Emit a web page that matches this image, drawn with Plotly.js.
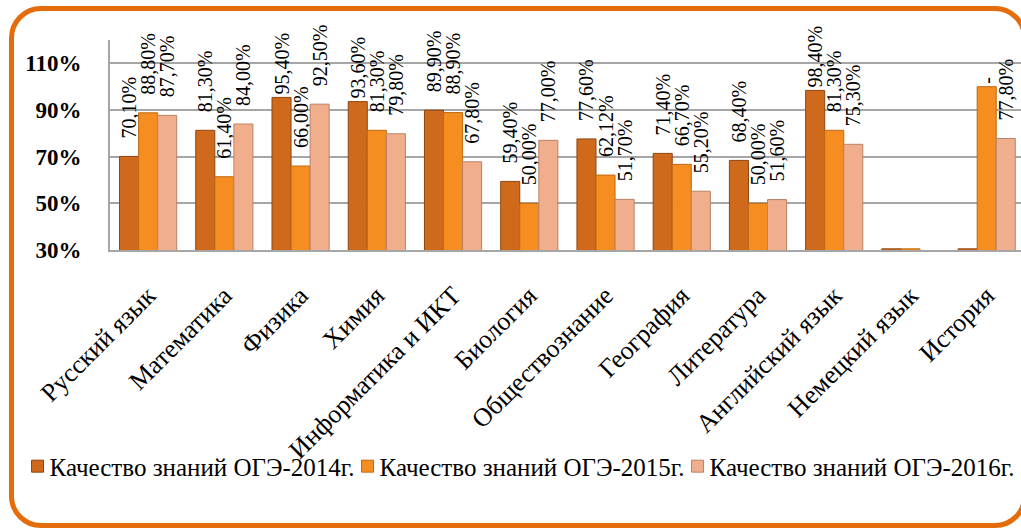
<!DOCTYPE html>
<html>
<head>
<meta charset="utf-8">
<script src="https://cdn.plot.ly/plotly-3.0.1.min.js"></script>
<style>
  html, body { margin: 0; padding: 0; background: #ffffff; overflow: hidden; }
  #wrap { position: relative; width: 1021px; height: 528px; overflow: hidden; }
  #frame { position: absolute; left: 9px; top: 6px; width: 1018px; height: 522px;
           box-sizing: border-box; border: 5px solid #E46C0A; border-radius: 32px; z-index: 0; }
  #chart { position: absolute; left: 0; top: 0; width: 1021px; height: 528px; z-index: 1; }
</style>
</head>
<body>
<div id="wrap">
  <div id="frame"></div>
  <div id="chart"></div>
</div>
<script>
// ---- data ----
const subjects = ['Русский язык', 'Математика', 'Физика', 'Химия', 'Информатика и ИКТ',
  'Биология', 'Обществознание', 'География', 'Литература', 'Английский язык',
  'Немецкий язык', 'История'];
const seriesNames = ['Качество знаний ОГЭ-2014г.', 'Качество знаний ОГЭ-2015г.', 'Качество знаний ОГЭ-2016г.'];
// values in %, slivers at the axis minimum are read as ~30.5
const q2014 = [70.1, 81.3, 95.4, 93.6, 89.9, 59.4, 77.6, 71.4, 68.4, 98.4, 30.5, 30.5];
const q2015 = [88.8, 61.4, 66.0, 81.3, 88.9, 50.0, 62.12, 66.7, 50.0, 81.3, 30.5, 100.0];
const q2016 = [87.7, 84.0, 92.5, 79.8, 67.8, 77.0, 51.7, 55.2, 51.6, 75.3, null, 77.8];
// labels shown in the picture (blank = no label, '-' = dash label)
const lab2014 = ['70,10%', '81,30%', '95,40%', '93,60%', '89,90%', '59,40%', '77,60%', '71,40%', '68,40%', '98,40%', '', ''];
const lab2015 = ['88,80%', '61,40%', '66,00%', '81,30%', '88,90%', '50,00%', '62,12%', '66,70%', '50,00%', '81,30%', '', '-'];
const lab2016 = ['87,70%', '84,00%', '92,50%', '79,80%', '67,80%', '77,00%', '51,70%', '55,20%', '51,60%', '75,30%', '', '77,80%'];
const yTickVals = [30, 50, 70, 90, 110];
const yTickText = ['30%', '50%', '70%', '90%', '110%'];

const colors = ['#CF6A1D', '#F68D20', '#F0AE8C'];
const edges = ['#8E4510', '#BF6A14', '#B98266'];
const SERIF = 'Liberation Serif';

function pad(labels, vals) {
  // small visual gap between bar top and label (labels near the chart top are not padded)
  return labels.map((t, i) => t === '' ? '' : ((vals[i] !== null && vals[i] > 92.6) ? t : '\u00a0\u00a0\u00a0' + t));
}

const allVals = [q2014, q2015, q2016];
const allLabs = [lab2014, lab2015, lab2016];
const traces = allVals.map((v, k) => ({
  type: 'bar',
  name: seriesNames[k],
  x: subjects,
  y: v,
  text: pad(allLabs[k], v),
  textposition: 'outside',
  textangle: -90,
  constraintext: 'none',
  cliponaxis: false,
  textfont: { family: SERIF, size: 20, color: '#000000' },
  marker: { color: colors[k], line: { color: edges[k], width: 1 } },
  hoverinfo: 'x+y+name'
}));

const layout = {
  width: 1021,
  height: 528,
  margin: { l: 110, r: 0, t: 40, b: 278 },
  paper_bgcolor: 'rgba(0,0,0,0)',
  plot_bgcolor: 'rgba(0,0,0,0)',
  font: { family: SERIF, color: '#000000' },
  barmode: 'group',
  bargap: 0.25,
  bargroupgap: 0,
  showlegend: true,
  legend: {
    orientation: 'h',
    x: -0.1015, xanchor: 'left',
    y: -0.921, yanchor: 'top',
    font: { family: SERIF, size: 25, color: '#000000' },
    entrywidth: 285,
    entrywidthmode: 'pixels',
    bgcolor: 'rgba(0,0,0,0)',
    traceorder: 'normal'
  },
  xaxis: {
    type: 'category',
    range: [-0.5, 11.45],
    showline: true, linecolor: '#A6A6A6', linewidth: 2,
    showgrid: false, zeroline: false,
    ticks: '',
    tickangle: -45,
    ticklabelstandoff: 18,
    tickfont: { family: SERIF, size: 26, color: '#000000' }
  },
  yaxis: {
    range: [30, 120],
    tickvals: yTickVals,
    ticktext: yTickText,
    showline: true, linecolor: '#A6A6A6', linewidth: 2,
    showgrid: true, gridcolor: '#A6A6A6', gridwidth: 2,
    zeroline: false,
    ticks: '',
    ticklabelstandoff: 22,
    tickfont: { family: SERIF, size: 23, color: '#000000', weight: 'bold' }
  }
};

Plotly.newPlot('chart', traces, layout, { displayModeBar: false, staticPlot: true }).then(gd => {
  // legend text sits close to its swatch in the reference
  gd.querySelectorAll('.legendtext').forEach(t => t.setAttribute('x', '32'));
  gd.querySelectorAll('.legend .scrollbox').forEach(s => s.removeAttribute('clip-path'));
});
</script>
</body>
</html>
